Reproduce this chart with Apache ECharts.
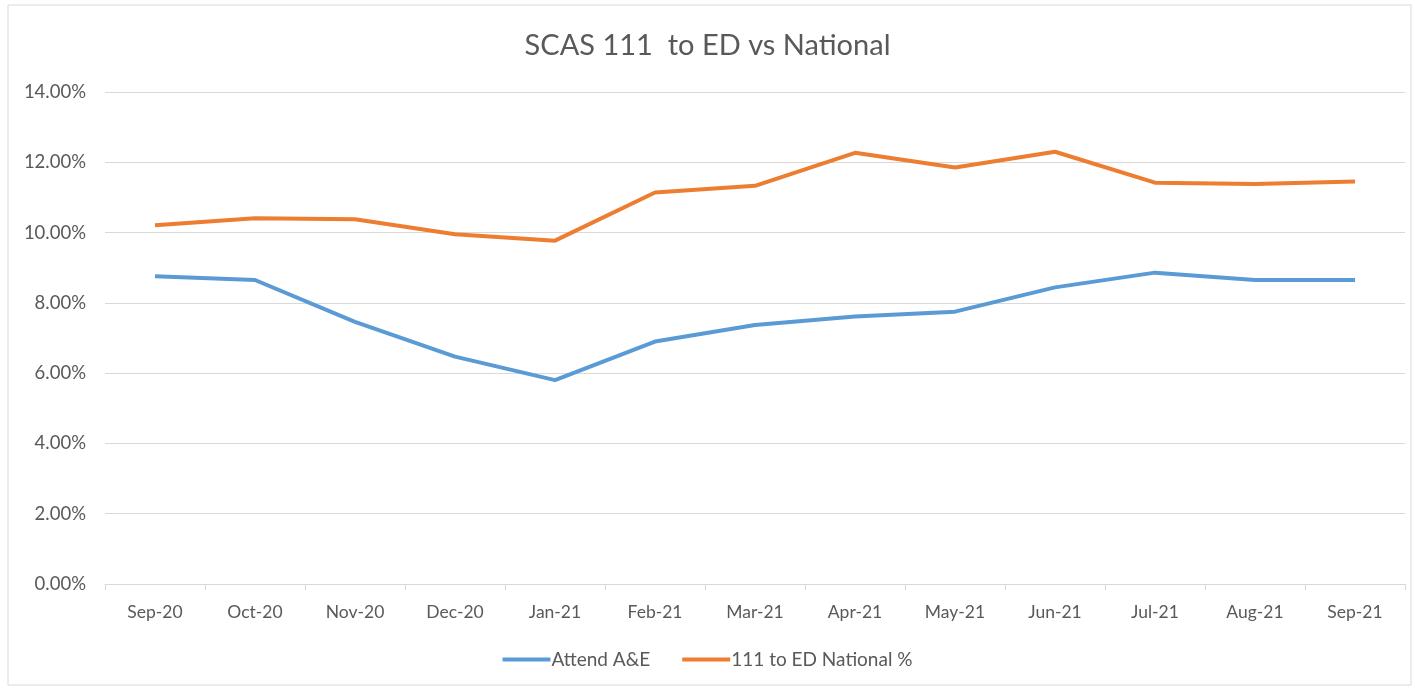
<!DOCTYPE html>
<html>
<head>
<meta charset="utf-8">
<script src="https://cdn.jsdelivr.net/npm/echarts@6/dist/echarts.min.js"></script>
<style>
html,body{margin:0;padding:0;background:#fff;}
#chart{width:1415px;height:689px;}
</style>
</head>
<body>
<div id="chart"></div>
<script>
const categories = ['Sep-20','Oct-20','Nov-20','Dec-20','Jan-21','Feb-21','Mar-21','Apr-21','May-21','Jun-21','Jul-21','Aug-21','Sep-21'];
const attendAE = [8.76, 8.65, 7.46, 6.47, 5.80, 6.90, 7.37, 7.61, 7.75, 8.44, 8.86, 8.65, 8.65];
const national111 = [10.21, 10.41, 10.38, 9.95, 9.77, 11.14, 11.33, 12.27, 11.85, 12.30, 11.42, 11.38, 11.45];
const seriesNames = ['Attend A&E', '111 to ED National %'];
const titleText = 'SCAS 111  to ED vs National';

const font = 'Lato, "Liberation Sans", sans-serif';
const chart = echarts.init(document.getElementById('chart'));
chart.setOption({
  animation: false,
  backgroundColor: '#fff',
  textStyle: { fontFamily: font },
  graphic: [{
    type: 'rect', silent: true,
    shape: { x: 8, y: 5, width: 1403, height: 680 },
    style: { fill: 'none', stroke: '#d9d9d9', lineWidth: 1 }
  }],
  title: {
    text: titleText, left: 'center', top: 26,
    textStyle: { fontFamily: font, fontSize: 29, fontWeight: 'normal', color: '#595959' }
  },
  legend: {
    bottom: 15, left: 'center',
    itemWidth: 48, itemHeight: 4, itemGap: 32,
    icon: 'rect',
    textStyle: { fontFamily: font, fontSize: 19, color: '#595959', padding: [0,0,0,-4] },
    data: seriesNames
  },
  grid: { left: 105, right: 10, top: 92, bottom: 105, containLabel: false },
  xAxis: {
    type: 'category', data: categories, boundaryGap: true,
    axisLine: { lineStyle: { color: '#d9d9d9', width: 1 } },
    axisTick: { show: true, length: 6, lineStyle: { color: '#d9d9d9' } },
    axisLabel: { color: '#595959', fontSize: 17.5, margin: 19, fontFamily: font }
  },
  yAxis: {
    type: 'value', min: 0, max: 14, interval: 2,
    axisLine: { show: false }, axisTick: { show: false },
    splitLine: { lineStyle: { color: '#d9d9d9', width: 1 } },
    axisLabel: { color: '#595959', fontSize: 18.5, margin: 19, fontFamily: font,
      formatter: v => v.toFixed(2) + '%' }
  },
  series: [
    { name: seriesNames[0], type: 'line', data: attendAE, symbol: 'none',
      lineStyle: { color: '#5B9BD5', width: 4 }, itemStyle: { color: '#5B9BD5' } },
    { name: seriesNames[1], type: 'line', data: national111, symbol: 'none',
      lineStyle: { color: '#ED7D31', width: 4 }, itemStyle: { color: '#ED7D31' } }
  ]
});
</script>
</body>
</html>
